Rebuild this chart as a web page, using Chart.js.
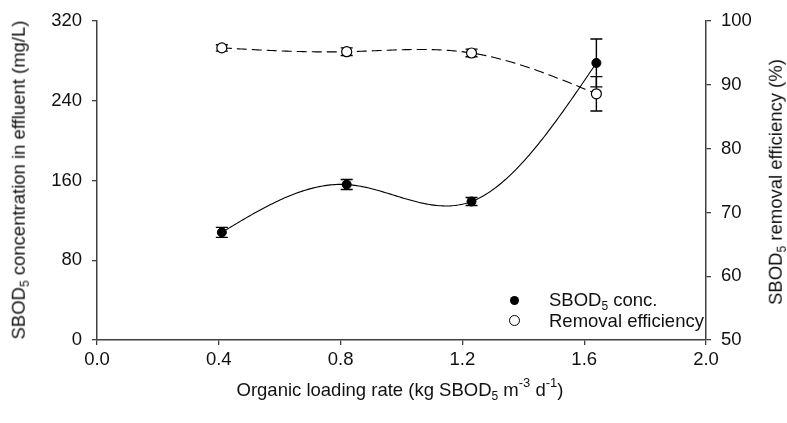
<!DOCTYPE html>
<html>
<head>
<meta charset="utf-8">
<script src="https://cdn.jsdelivr.net/npm/chart.js@4/dist/chart.umd.min.js"></script>
<style>
  html, body { margin: 0; padding: 0; background: #fff; }
  #wrap { position: relative; width: 787px; height: 423px; font-family: 'Liberation Sans', Arial, sans-serif; color: #000; }
  canvas { position: absolute; left: 0; top: 0; }
  .t { position: absolute; white-space: nowrap; font-size: 18.5px; line-height: 1; color: #111; }
  .rot { transform: translate(-50%, -50%) rotate(-90deg); }
  .hor { transform: translate(-50%, -50%); }
  sub { font-size: 12px; vertical-align: -4px; line-height: 0; }
  sup { font-size: 13px; vertical-align: 9px; line-height: 0; }
  .leg { position: absolute; font-size: 18.5px; white-space: nowrap; line-height: 1; color: #111; }
  .mk { position: absolute; box-sizing: border-box; border-radius: 50%; }
</style>
</head>
<body>
<div id="wrap">
  <canvas id="c" width="787" height="423"></canvas>
  <div class="t rot" style="left:19px; top:180px;">SBOD<sub>5</sub> concentration in effluent (mg/L)</div>
  <div class="t rot" style="left:776px; top:182px;">SBOD<sub>5</sub> removal efficiency (%)</div>
  <div class="t hor" style="left:400px; top:390px;">Organic loading rate (kg SBOD<sub>5</sub> m<sup>-3</sup> d<sup>-1</sup>)</div>
  <div class="mk" style="left:510px; top:296px; width:9px; height:9px; background:#000;"></div>
  <div class="leg" style="left:549px; top:291px;">SBOD<sub>5</sub> conc.</div>
  <div class="mk" style="left:509px; top:315px; width:11px; height:11px; background:#fff; border:1px solid #000;"></div>
  <div class="leg" style="left:549px; top:312px;">Removal efficiency</div>
</div>
<script>
// ---- data ----
const olr = [0.41, 0.82, 1.23, 1.64];
const sbodConc = [108, 156, 139, 278];
const sbodErr = [5, 5, 4, 24];
const removalEff = [95.8, 95.2, 95.0, 88.6];
const removalErr = [0.5, 0.6, 0.6, 2.7];
const xTicks = [0.0, 0.4, 0.8, 1.2, 1.6, 2.0];
const yLeftTicks = [0, 80, 160, 240, 320];
const yRightTicks = [50, 60, 70, 80, 90, 100];

function natSpline(xs, ys) {
  const n = xs.length;
  const h = [];
  for (let i = 0; i < n - 1; i++) h.push(xs[i + 1] - xs[i]);
  const M = new Array(n).fill(0);
  const m = n - 2;
  const A = [], B = [], C = [], R = [];
  for (let i = 1; i <= m; i++) {
    A.push(h[i - 1]); B.push(2 * (h[i - 1] + h[i])); C.push(h[i]);
    R.push(6 * ((ys[i + 1] - ys[i]) / h[i] - (ys[i] - ys[i - 1]) / h[i - 1]));
  }
  for (let i = 1; i < m; i++) {
    const w = A[i] / B[i - 1];
    B[i] -= w * C[i - 1]; R[i] -= w * R[i - 1];
  }
  const sol = new Array(m);
  for (let i = m - 1; i >= 0; i--) sol[i] = (R[i] - (i < m - 1 ? C[i] * sol[i + 1] : 0)) / B[i];
  for (let i = 0; i < m; i++) M[i + 1] = sol[i];
  return function (x) {
    let i = 0;
    while (i < n - 2 && x > xs[i + 1]) i++;
    const hi = h[i], t1 = xs[i + 1] - x, t0 = x - xs[i];
    return M[i] * t1 * t1 * t1 / (6 * hi) + M[i + 1] * t0 * t0 * t0 / (6 * hi)
      + (ys[i] / hi - M[i] * hi / 6) * t1 + (ys[i + 1] / hi - M[i + 1] * hi / 6) * t0;
  };
}

const curvesPlugin = {
  id: 'curves',
  beforeDatasetsDraw(chart) {
    const ctx = chart.ctx;
    const xs = chart.scales.x;
    const sets = [
      { ys: sbodConc, err: sbodErr, scale: chart.scales.y, dash: [] },
      { ys: removalEff, err: removalErr, scale: chart.scales.y1, dash: [10, 5] }
    ];
    ctx.save();
    for (const s of sets) {
      const f = natSpline(olr, s.ys);
      ctx.beginPath();
      ctx.setLineDash(s.dash);
      ctx.strokeStyle = '#000';
      ctx.lineWidth = 1.1;
      const x0 = olr[0], x1 = olr[olr.length - 1];
      const N = 200;
      for (let k = 0; k <= N; k++) {
        const xv = x0 + (x1 - x0) * k / N;
        const px = xs.getPixelForValue(xv), py = s.scale.getPixelForValue(f(xv));
        if (k === 0) ctx.moveTo(px, py); else ctx.lineTo(px, py);
      }
      ctx.stroke();
      ctx.setLineDash([]);
      ctx.lineWidth = 1.4;
      for (let i = 0; i < olr.length; i++) {
        const px = xs.getPixelForValue(olr[i]);
        const top = s.scale.getPixelForValue(s.ys[i] + s.err[i]);
        const bot = s.scale.getPixelForValue(s.ys[i] - s.err[i]);
        ctx.beginPath();
        ctx.moveTo(px, top); ctx.lineTo(px, bot);
        ctx.moveTo(px - 6, top); ctx.lineTo(px + 6, top);
        ctx.moveTo(px - 6, bot); ctx.lineTo(px + 6, bot);
        ctx.stroke();
      }
    }
    ctx.restore();
  }
};

const font = { family: "'Liberation Sans', Arial, sans-serif", size: 18.5 };
const axisColor = '#404040';

new Chart(document.getElementById('c'), {
  type: 'scatter',
  data: {
    datasets: [
      {
        label: 'SBOD5 conc.',
        data: olr.map((x, i) => ({ x, y: sbodConc[i] })),
        yAxisID: 'y',
        showLine: false,
        pointRadius: 4.5,
        pointBackgroundColor: '#000',
        pointBorderColor: '#000',
        pointBorderWidth: 1
      },
      {
        label: 'Removal efficiency',
        data: olr.map((x, i) => ({ x, y: removalEff[i] })),
        yAxisID: 'y1',
        showLine: false,
        pointRadius: 5,
        pointBackgroundColor: '#fff',
        pointBorderColor: '#000',
        pointBorderWidth: 1.2
      }
    ]
  },
  options: {
    responsive: false,
    animation: false,
    layout: { padding: { top: 20, left: 0, right: 0, bottom: 0 } },
    plugins: { legend: { display: false }, tooltip: { enabled: false } },
    scales: {
      x: {
        type: 'linear', min: 0, max: 2,
        afterBuildTicks: (s) => { s.ticks = xTicks.map(v => ({ value: v })); },
        ticks: { font, color: '#111', padding: 4, maxRotation: 0, callback: (v) => Number(v).toFixed(1) },
        grid: { drawOnChartArea: false, drawTicks: true, tickLength: 5, color: axisColor, lineWidth: 1.3 },
        border: { display: true, color: axisColor, width: 1.5 },
        afterFit: (s) => { s.height = 83; }
      },
      y: {
        type: 'linear', position: 'left', min: 0, max: 320,
        afterBuildTicks: (s) => { s.ticks = yLeftTicks.map(v => ({ value: v })); },
        ticks: { font, color: '#111', padding: 10 },
        grid: { drawOnChartArea: false, drawTicks: true, tickLength: 5, color: axisColor, lineWidth: 1.3 },
        border: { display: true, color: axisColor, width: 1.5 },
        afterFit: (s) => { s.width = 97; }
      },
      y1: {
        type: 'linear', position: 'right', min: 50, max: 100,
        afterBuildTicks: (s) => { s.ticks = yRightTicks.map(v => ({ value: v })); },
        ticks: { font, color: '#111', padding: 10 },
        grid: { drawOnChartArea: false, drawTicks: true, tickLength: 5, color: axisColor, lineWidth: 1.3 },
        border: { display: true, color: axisColor, width: 1.5 },
        afterFit: (s) => { s.width = 81; }
      }
    }
  },
  plugins: [curvesPlugin]
});
</script>
</body>
</html>
